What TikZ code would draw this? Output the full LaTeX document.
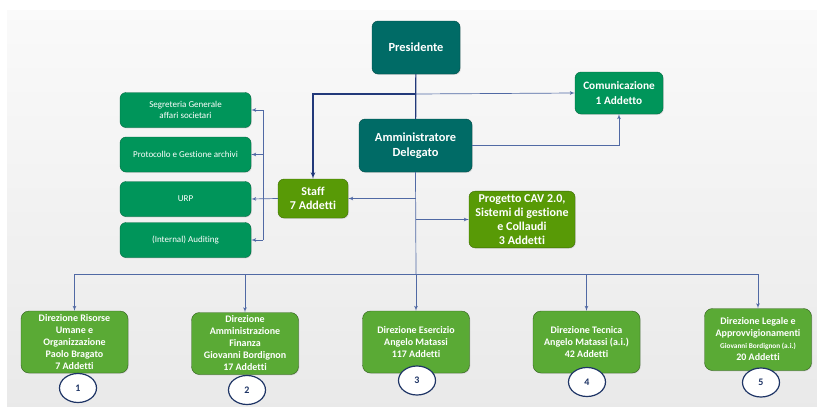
\documentclass[tikz,border=0pt]{standalone}
\usepackage{fontspec}
\setmainfont{Carlito}[Ligatures=NoCommon]
\usepackage{xcolor}
\usetikzlibrary{shapes,arrows,positioning,calc,shadows}
\definecolor{tealbox}{HTML}{006B66}
\definecolor{greenbox}{HTML}{00955A}
\definecolor{olivebox}{HTML}{589A06}
\definecolor{dirbox}{HTML}{5AAA35}
\definecolor{darkline}{HTML}{22397A}
\definecolor{thinblue}{HTML}{5069A4}
\definecolor{circline}{HTML}{1F3566}
\tikzset{
box/.style = {rectangle, rounded corners=6pt, align=center, text=white, font=\bfseries,
  drop shadow={opacity=0.25, shadow xshift=0.8pt, shadow yshift=-0.8pt}},
topblock/.style = {box, fill=tealbox, draw=tealbox!70!black, minimum width=88pt, minimum height=53pt, font=\bfseries\fontsize{12.4}{15}\selectfont},
commblock/.style = {box, fill=greenbox, draw=greenbox!70!black, font=\bfseries\fontsize{11.3}{14.5}\selectfont},
sideblock/.style = {box, fill=greenbox, draw=greenbox!70!black, minimum width=131pt, minimum height=35pt, font=\fontsize{9}{11}\selectfont},
oliveblock/.style = {box, fill=olivebox, draw=olivebox!70!black, font=\bfseries\fontsize{12}{14}\selectfont},
dirblock/.style = {box, fill=dirbox, draw=dirbox!55!black, minimum width=107pt, minimum height=62pt, rounded corners=8pt, font=\bfseries\fontsize{10}{12}\selectfont},
numcircle/.style = {draw=circline, line width=1.2pt, fill=white, ellipse, minimum width=37pt, minimum height=29pt, text=circline, font=\bfseries\fontsize{10}{12}\selectfont},
tmp/.style = {coordinate},
mainline/.style = {darkline, line width=1.2pt},
subline/.style = {thinblue, line width=0.7pt}
}
\begin{document}
\begin{tikzpicture}[x=1pt,y=-1pt,>=latex']
    \useasboundingbox (0,0) rectangle (817,407);
    \fill[top color=gray!4, bottom color=gray!17] (7,10) rectangle (817,407);

    % top of the chart
    \node [topblock] (pres) at (416,47.5) {Presidente};
    \node [topblock, minimum width=113pt] (ad) at (415.5,145.5) {Amministratore\\Delegato};
    \node [commblock, minimum width=88pt, minimum height=42pt] (comm) at (619,93) {Comunicazione\\1 Addetto};
    \node [oliveblock, minimum width=70pt, minimum height=39pt] (staff) at (313,198.5) {Staff\\7 Addetti};
    \node [oliveblock, minimum width=106pt, minimum height=55pt] (proj) at (522,219.5) {Progetto CAV 2.0,\\Sistemi di gestione\\e Collaudi\\3 Addetti};

    % staff offices
    \node [sideblock] (segr) at (185.5,110) {Segreteria Generale\\affari societari};
    \node [sideblock] (prot) at (185.5,154.5) {Protocollo e Gestione archivi};
    \node [sideblock] (urp) at (185.5,199) {URP};
    \node [sideblock] (audit) at (185.5,240) {(Internal) Auditing};

    % direzioni
    \node [dirblock] (dir1) at (74.5,342) {Direzione Risorse\\Umane e\\Organizzazione\\Paolo Bragato\\7 Addetti};
    \node [dirblock] (dir2) at (245,343.5) {Direzione\\Amministrazione\\Finanza\\Giovanni Bordignon\\17 Addetti};
    \node [dirblock] (dir3) at (416,342) {Direzione Esercizio\\Angelo Matassi\\117 Addetti};
    \node [dirblock] (dir4) at (586.5,342) {Direzione Tecnica\\Angelo Matassi (a.i.)\\42 Addetti};
    \node [dirblock] (dir5) at (758,339.5) {Direzione Legale e\\Approvvigionamenti\\{\fontsize{7.3}{12}\selectfont Giovanni Bordignon (a.i.)}\\20 Addetti};

    \node [numcircle] (n1) at (78,388) {1};
    \node [numcircle] (n2) at (247,390) {2};
    \node [numcircle] (n3) at (417,380.5) {3};
    \node [numcircle] (n4) at (587,382) {4};
    \node [numcircle] (n5) at (761,382.5) {5};

    % junctions
    \node [tmp] (jtop) at (416,94) {};
    \node [tmp] (jbus) at (416,274) {};
    \node [tmp] (lbus) at (263,110) {};

    % connectors
    \draw [subline,->] (jtop) -- (comm.west);
    \draw [subline,->] (ad.east) -| (comm.south);
    \draw [mainline] (pres) -- (ad);
    \draw [mainline,->] (jtop) -| (staff.north);
    \draw [subline] (ad.south) -- (jbus);
    \draw [subline,->] (ad.south |- staff.east) -- (staff.east);
    \draw [subline,->] (ad.south |- proj.west) -- (proj.west);
    \draw [subline,->] (staff.west) -- (urp.east);
    \draw [subline] (lbus |- segr.east) -- (lbus |- audit.east);
    \foreach \b in {segr,prot,audit}
        \draw [subline,->] (lbus |- \b.east) -- (\b.east);
    \draw [subline] (dir1 |- jbus) -- (dir5 |- jbus);
    \foreach \i in {1,...,5}
        \draw [subline,->] (dir\i |- jbus) -- (dir\i.north);
\end{tikzpicture}
\end{document}
